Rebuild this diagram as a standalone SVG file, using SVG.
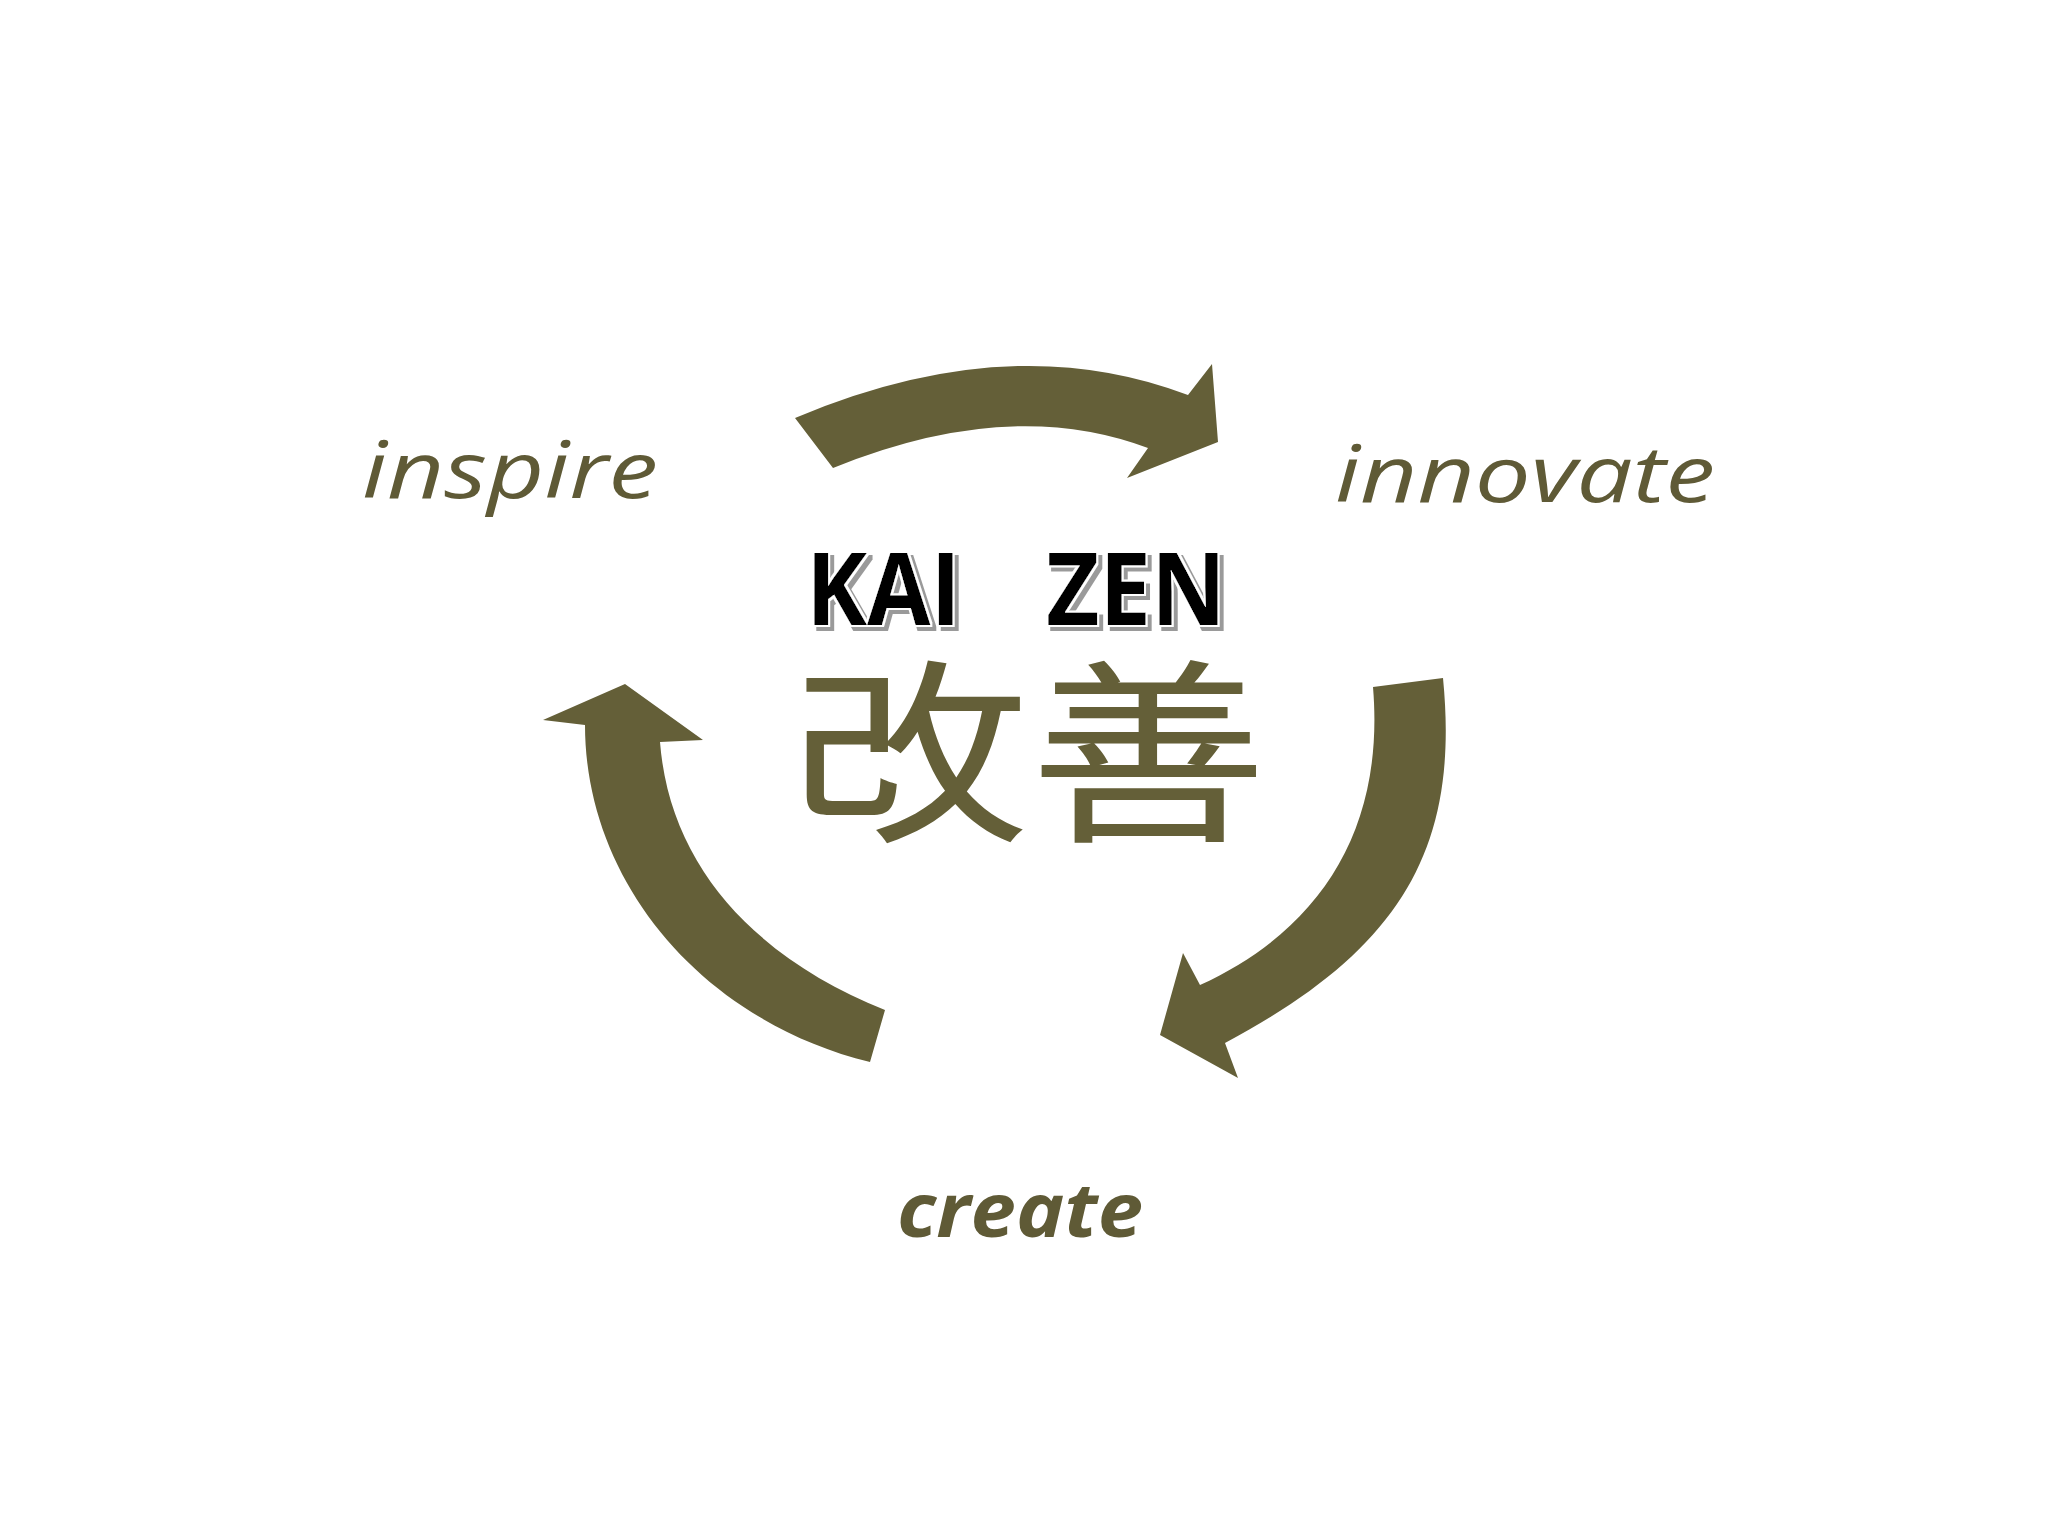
<svg xmlns="http://www.w3.org/2000/svg" width="2048" height="1536" viewBox="0 0 2048 1536">
<defs>
<filter id="kzShadow" x="-10%" y="-20%" width="130%" height="150%">
<feMorphology in="SourceAlpha" operator="dilate" radius="2" result="d"/>
<feOffset in="d" dx="4" dy="4" result="o"/>
<feFlood flood-color="#9a9a9a"/>
<feComposite in2="o" operator="in" result="shadow"/>
<feFlood flood-color="#ffffff"/>
<feComposite in2="d" operator="in" result="outline"/>
<feMerge><feMergeNode in="shadow"/><feMergeNode in="outline"/><feMergeNode in="SourceGraphic"/></feMerge>
</filter>
</defs>
<style>
.arrow{fill:#645f38;}
.word{font-family:"Open Sans","DejaVu Sans",sans-serif;font-style:italic;fill:#5f5a36;}
.kz{font-family:"Open Sans","DejaVu Sans",sans-serif;font-weight:bold;font-size:100px;fill:#000;filter:url(#kzShadow);}
.kanji{font-family:"Noto Sans CJK JP","Noto Sans CJK SC",sans-serif;font-size:197px;fill:#645f38;}
</style>
<rect width="2048" height="1536" fill="#ffffff"/>
<g id="connectors">
<path id="arrow-top" class="arrow" d="M795,418 Q1010,327 1188,395 L1212,364 L1218,442 L1127,478 L1148,448 Q1010,396 833,468 Z"/>
<path id="arrow-right" class="arrow" d="M1443,678 C1460,850 1400,950 1225,1043 L1238,1078 L1160,1035 L1183,953 L1200,985 C1320,930 1385,830 1373,687 Z"/>
<path id="arrow-left" class="arrow" d="M870,1062 C700,1020 585,880 585,725 L543,720 L625,684 L703,740 L660,742 C670,870 760,960 885,1010 Z"/>
</g>
<g id="node-inspire">
<text class="word" x="362" y="498" font-size="78" textLength="296" lengthAdjust="spacingAndGlyphs">inspire</text>
</g>
<g id="node-innovate">
<text class="word" x="1335" y="502" font-size="78" textLength="380" lengthAdjust="spacingAndGlyphs">innovate</text>
</g>
<g id="node-create">
<text class="word" x="897" y="1237" font-size="76" font-weight="bold" textLength="246" lengthAdjust="spacingAndGlyphs">create</text>
</g>
<g id="node-kaizen">
<text class="kz" x="806" y="625" textLength="155" lengthAdjust="spacingAndGlyphs">KAI</text>
<text class="kz" x="1046" y="625" textLength="180" lengthAdjust="spacingAndGlyphs">ZEN</text>
</g>
<g id="node-kanji">
<text class="kanji" x="790" y="826" textLength="478" lengthAdjust="spacingAndGlyphs">改善</text>
</g>
</svg>
